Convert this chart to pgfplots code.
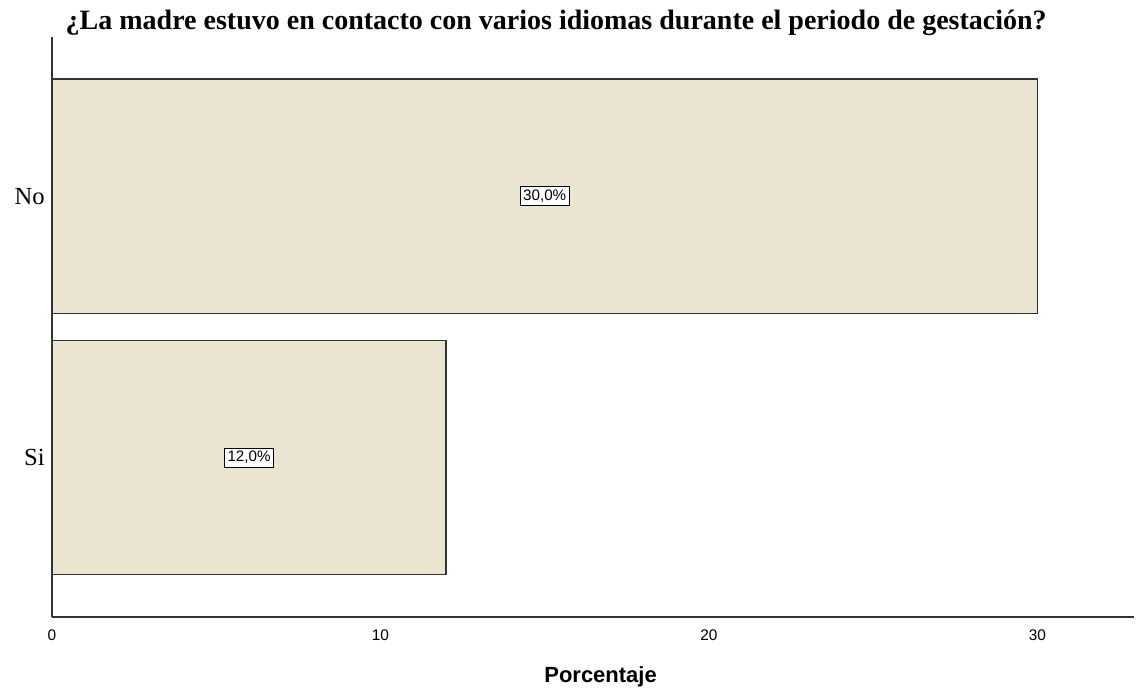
\documentclass[border=0pt]{standalone}
\usepackage{fontspec}
\setmainfont{Liberation Serif}
\setsansfont{Liberation Sans}
\usepackage{pgfplots}
\usepackage{pgfplotstable}
\pgfplotsset{compat=1.18}

\definecolor{barfill}{RGB}{234,228,208}
\definecolor{edge}{RGB}{51,51,51}

% y: 0 = Si, 1 = No
\pgfplotstableread{
y val
0 12.0
1 30.0
}\datatable

\begin{document}
\begin{tikzpicture}
  \begin{axis}[
    at={(0,0)}, anchor=south west,
    scale only axis,
    width=541pt, height=290pt,
    xmin=0, xmax=32.94,
    ymin=-0.61, ymax=1.61,
    axis x line=bottom, axis y line=left,
    axis line style={-, edge, line width=0.7pt},
    major tick length=0pt,
    xtick={0,10,20,30},
    ytick={0,1}, yticklabels={Si,No},
    /pgf/number format/assume math mode=true,
    xticklabel style={font=\sffamily\fontsize{7.7}{8}\selectfont, anchor=center, yshift=-9pt},
    yticklabel style={font=\fontsize{12.3}{13}\selectfont, anchor=east, inner sep=0pt, xshift=-3.5pt},
    xlabel={\textbf{Porcentaje}},
    xlabel style={font=\sffamily\fontsize{11}{12}\selectfont, at={(axis description cs:0.507,0)}, anchor=center, yshift=-30pt},
    clip=false,
  ]
    \addplot[xbar, fill=barfill, draw=edge, line width=0.7pt, bar width=0.897]
      table[x=val, y=y] {\datatable};
    \addplot[draw=none, mark=none,
      point meta=\thisrow{val},
      nodes near coords={\pgfmathprintnumber[fixed, fixed zerofill, precision=1, use comma]{\pgfplotspointmeta}\%},
      nodes near coords style={font=\sffamily\fontsize{7.6}{8}\selectfont, anchor=center,
        draw=black, fill=white, inner xsep=1.5pt, inner ysep=1.6pt, line width=0.5pt},
    ] table[x expr=\thisrow{val}/2, y=y] {\datatable};
    \node[font=\bfseries\fontsize{14}{16}\selectfont, anchor=center, yshift=7pt]
      at (rel axis cs:0.466,1) {¿La madre estuvo en contacto con varios idiomas durante el periodo de gestación?};
  \end{axis}
  \pgfresetboundingbox
  \path (-26pt,-35.5pt) rectangle (542pt,308.5pt);
\end{tikzpicture}
\end{document}
